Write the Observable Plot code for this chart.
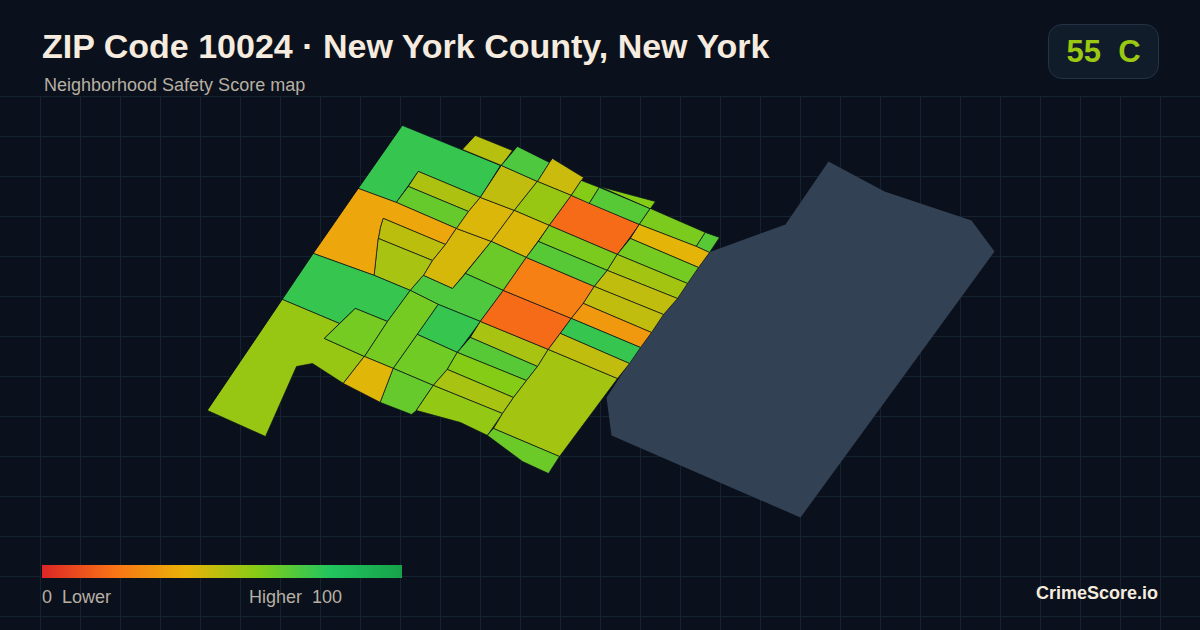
<!DOCTYPE html>
<html>
<head>
<meta charset="utf-8">
<script src="https://cdn.jsdelivr.net/npm/d3@7"></script>
<script src="https://cdn.jsdelivr.net/npm/@observablehq/plot@0.6"></script>
<style>
html,body{margin:0;padding:0;background:#0a111c;}
#page{position:relative;width:1200px;height:630px;overflow:hidden;background:#0a111c;font-family:"Liberation Sans",Arial,sans-serif;}
#page svg{position:absolute;left:0;top:0;background:transparent;}
.t{position:absolute;white-space:pre;line-height:1;}
#title{left:42px;top:29px;font-size:34px;font-weight:700;color:#f5ebdf;}
#sub{left:44px;top:76px;font-size:18px;color:#b8afa3;}
#badge{left:1048px;top:24px;width:109px;height:53px;border:1px solid #243246;border-radius:14px;background:#111c2b;}
#grade{left:1048px;top:36px;width:111px;text-align:center;font-size:31px;font-weight:700;color:#9bc912;}
#bar{position:absolute;left:42px;top:565px;width:360px;height:13px;}
#lo{left:42px;top:588px;font-size:18px;color:#b8afa3;}
#hi{left:249px;top:588px;font-size:18px;color:#b8afa3;}
#brand{right:42px;top:584px;font-size:18px;font-weight:700;color:#f5ebdf;}
</style>
</head>
<body>
<div id="page"></div>
<script>
const titleText = "ZIP Code 10024 · New York County, New York";
const subtitleText = "Neighborhood Safety Score map";
const gradeText = "55  C";
const lowLabel = "0  Lower";
const highLabel = "Higher  100";
const brandText = "CrimeScore.io";

const colorStops = [0, 20, 40, 60, 80, 100];
const colorRange = ["#dc2626", "#f97316", "#eab308", "#84cc16", "#22c55e", "#16a34a"];

const gridXs = d3.range(40, 1200, 40);
const gridYs = d3.range(96, 630, 40);

const parkRing = [[708,252],[785,224],[828,161],[884,191],[971,220],[994,251],[800,517],[611,435],[606,397],[650,330]];

const tractRings = [
  [[402,125],[500,165],[480,197],[418,171],[396,202],[358,188]],
  [[418,171],[480,197],[468,211],[408,186]],
  [[408,186],[468,211],[456,228],[396,202]],
  [[358,188],[396,202],[456,228],[445,244],[383,218],[380,227],[378,238],[374,275],[313,253]],
  [[383,218],[445,244],[432,260],[378,238],[380,227]],
  [[378,238],[432,260],[423,275],[410,290],[374,275]],
  [[456,228],[491,241],[452,288],[423,275],[432,260],[445,244]],
  [[480,197],[514,210],[491,241],[456,228],[468,211]],
  [[501,165],[537,181],[514,210],[480,197]],
  [[475,135],[512,150],[501,165],[462,149]],
  [[517,146],[549,162],[537,181],[501,165]],
  [[552,158],[583,177],[571,195],[537,181],[549,162]],
  [[537,181],[571,195],[549,225],[514,210]],
  [[514,210],[549,225],[526,257],[491,241]],
  [[491,241],[526,257],[503,290],[465,273]],
  [[423,275],[452,288],[465,273],[503,290],[480,321],[438,304],[410,290]],
  [[313,253],[374,275],[410,290],[387,321],[355,308],[339,323],[282,299]],
  [[282,299],[339,323],[324,338],[364,356],[343,383],[312,363],[296,366],[265,436],[207,410]],
  [[355,308],[387,321],[364,356],[324,338]],
  [[410,290],[438,304],[417,334],[393,368],[364,356],[387,321]],
  [[438,304],[480,321],[457,352],[417,334]],
  [[417,334],[457,352],[447,369],[433,385],[393,368]],
  [[364,356],[393,368],[380,402],[343,383]],
  [[393,368],[433,385],[416,410],[411,414],[380,402]],
  [[480,321],[548,349],[537,366],[470,337]],
  [[470,337],[537,366],[526,380],[457,352]],
  [[457,352],[526,380],[513,397],[447,369]],
  [[447,369],[513,397],[502,413],[433,385]],
  [[433,385],[502,413],[487,435],[460,422],[416,410]],
  [[548,349],[617,378],[559,456],[493,428],[502,413],[513,397],[526,380],[537,366]],
  [[493,428],[559,456],[548,473],[522,461],[487,435]],
  [[503,290],[571,318],[548,349],[480,321]],
  [[526,257],[594,286],[583,303],[571,318],[503,290]],
  [[571,195],[639,224],[617,254],[549,225]],
  [[549,225],[617,254],[607,270],[538,241]],
  [[538,241],[607,270],[594,286],[526,257]],
  [[581,180],[599,187],[589,203],[571,195]],
  [[599,187],[650,208],[639,224],[589,203]],
  [[599,186],[655,201],[650,208]],
  [[650,208],[705,232],[696,246],[639,224]],
  [[705,232],[719,237],[709,252],[696,246]],
  [[639,224],[696,246],[709,252],[698,267],[630,238]],
  [[630,238],[698,267],[687,283],[617,254]],
  [[617,254],[687,283],[677,298],[607,270]],
  [[607,270],[677,298],[663,314],[594,286]],
  [[594,286],[663,314],[651,332],[583,303]],
  [[583,303],[651,332],[640,347],[571,318]],
  [[571,318],[640,347],[629,363],[560,333]],
  [[560,333],[629,363],[617,378],[548,349]]
];

const tractScores = [
  76, 52, 66, 36, 49, 53, 44, 43, 48, 50, 71, 46, 56, 43, 65, 71, 76, 56, 63, 63, 76, 64, 42, 66,
  53, 69, 60, 53, 57, 54, 65, 18, 24, 18, 62, 69, 60, 69, 60, 62, 69, 41, 63, 54, 48, 48, 32, 76, 48
];

const tractRows = tractRings.flatMap((ring, i) => ring.map(([x, y]) => ({x, y, tract: i, score: tractScores[i]})));
const parkRows = parkRing.map(([x, y]) => ({x, y}));

const chart = Plot.plot({
  width: 1200,
  height: 630,
  margin: 0,
  style: {background: "transparent"},
  x: {domain: [0, 1200], range: [0, 1200], axis: null},
  y: {domain: [0, 630], range: [0, 630], axis: null},
  color: {type: "linear", domain: colorStops, range: colorRange},
  marks: [
    Plot.ruleX(gridXs, {x: d => d, y1: gridYs[0], y2: 630, stroke: "#15222f", strokeWidth: 1}),
    Plot.ruleY(gridYs, {y: d => d, x1: 0, x2: 1200, stroke: "#15222f", strokeWidth: 1}),
    Plot.line(parkRows, {x: "x", y: "y", curve: "linear-closed", fill: "#334155", stroke: "none"}),
    Plot.line(tractRows, {x: "x", y: "y", z: "tract", curve: "linear-closed", fill: "score", stroke: "#0a111c", strokeWidth: 0.7})
  ]
});

const page = document.getElementById("page");
page.appendChild(chart);
function addText(id, text) {
  const el = document.createElement("div");
  el.id = id;
  el.className = "t";
  el.textContent = text;
  page.appendChild(el);
}
addText("title", titleText);
addText("sub", subtitleText);
addText("badge", "");
addText("grade", gradeText);
const bar = document.createElement("div");
bar.id = "bar";
bar.style.background = "linear-gradient(to right," + colorRange.map((c, i) => c + " " + colorStops[i] + "%").join(",") + ")";
page.appendChild(bar);
addText("lo", lowLabel);
addText("hi", highLabel);
addText("brand", brandText);
</script>
</body>
</html>
